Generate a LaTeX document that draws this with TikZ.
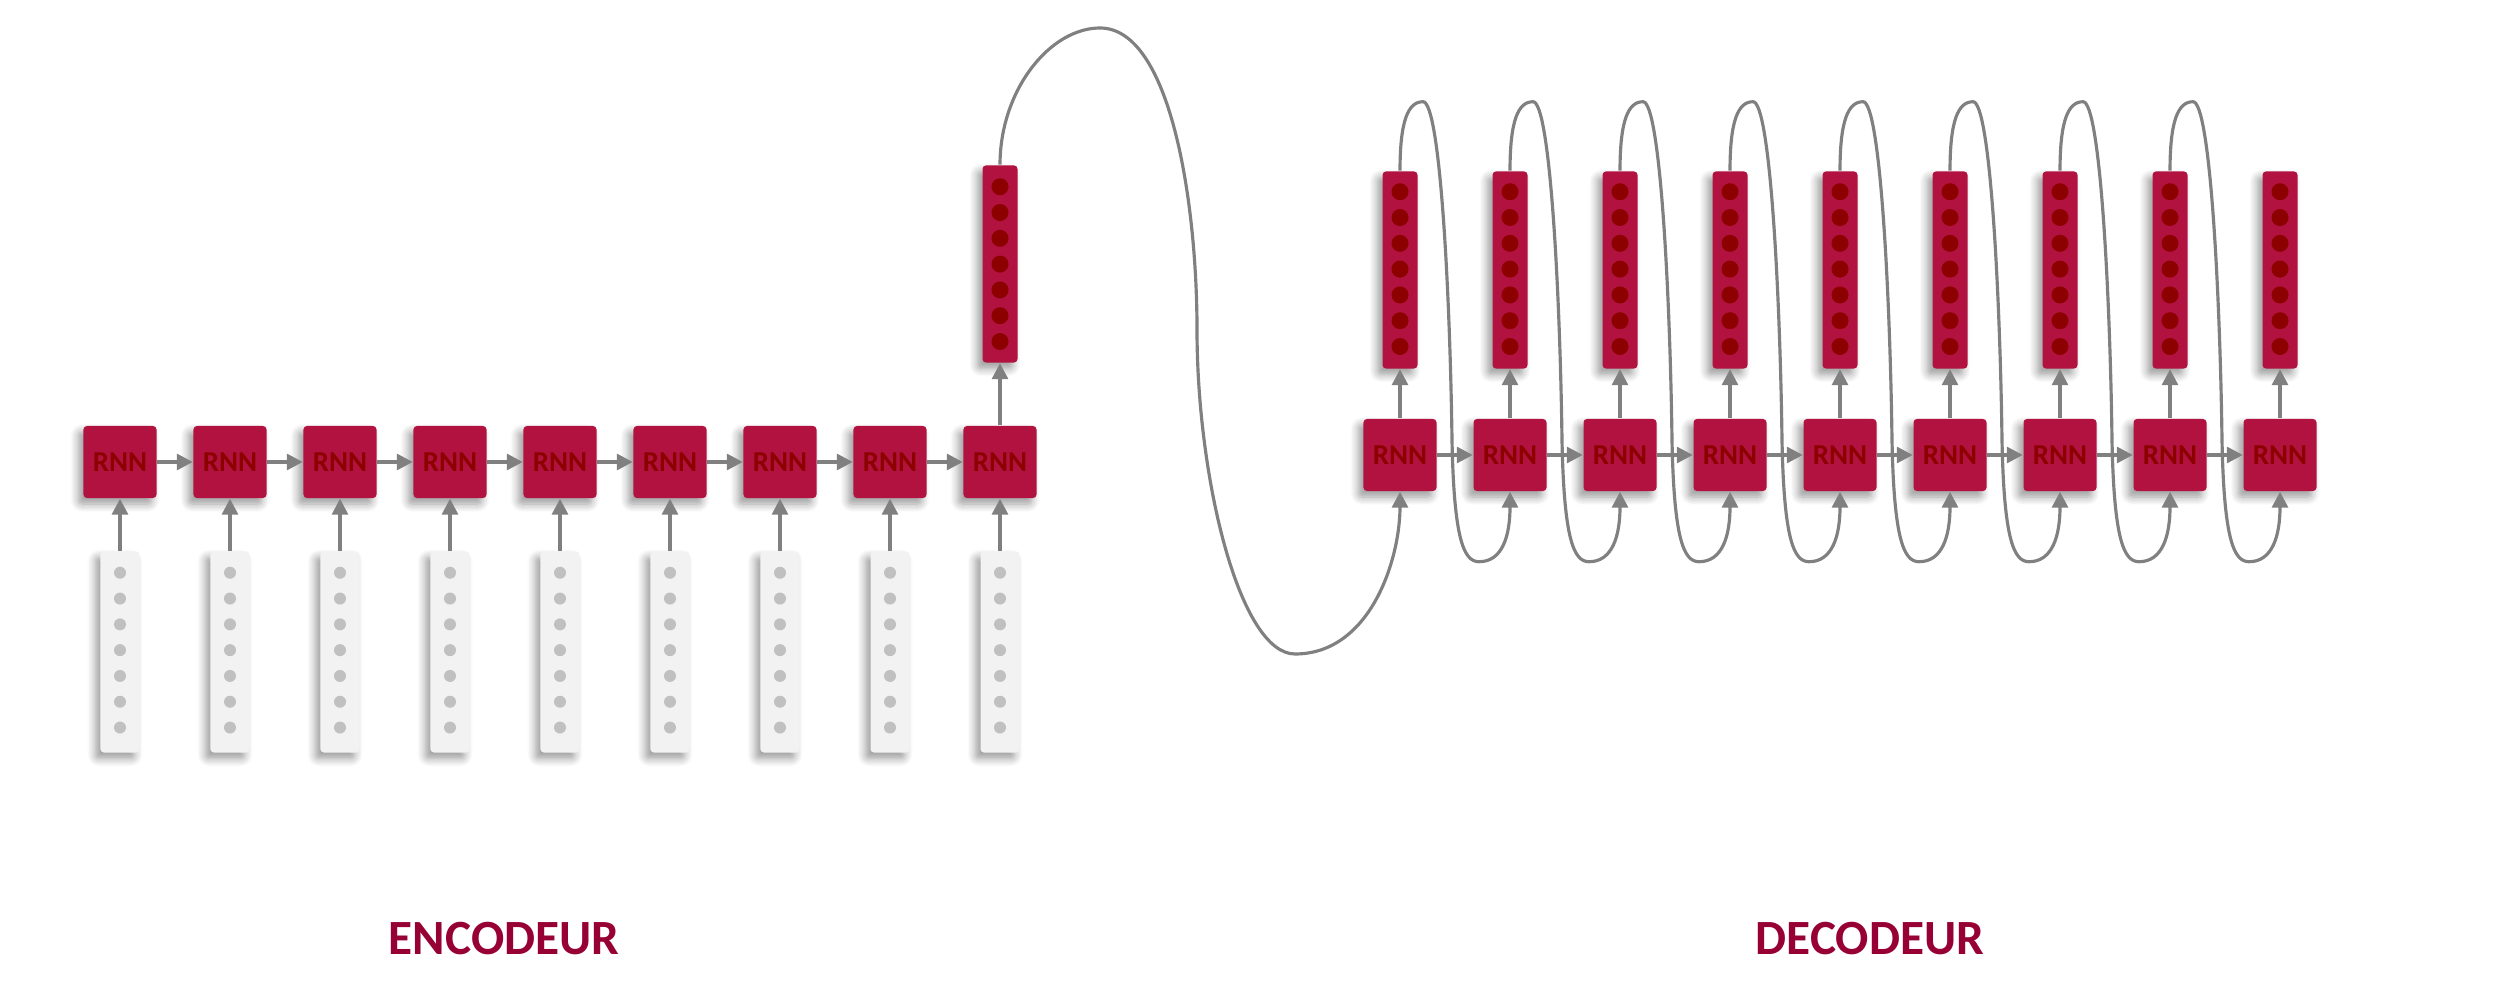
\documentclass[tikz,border=0pt]{standalone}
\usepackage{fontspec}
\setmainfont{Carlito}
\definecolor{rnnred}{RGB}{178, 18, 63}
\definecolor{dotred}{RGB}{140, 0, 0}
\definecolor{titlered}{RGB}{150, 0, 52}
\definecolor{arrowgray}{RGB}{128, 128, 128}
\definecolor{vecgray}{RGB}{242, 242, 242}
\definecolor{dotgray}{RGB}{192, 192, 192}
\usetikzlibrary{arrows.meta, positioning, calc, shadows, shadows.blur}

\tikzset{
  softshadow/.style={blur shadow={shadow xshift=-0.05cm, shadow yshift=-0.06cm, shadow opacity=40,
                     shadow blur radius=0.08cm, shadow blur steps=8}},
  rnnbox/.style={fill=rnnred, minimum width=0.73cm, minimum height=0.72cm, inner sep=0pt,
                 rounded corners=1pt, text=dotred, font=\bfseries\fontsize{8.2}{9}\selectfont, softshadow},
  invec/.style={fill=vecgray, minimum width=0.39cm, minimum height=2.01cm, inner sep=0pt,
                rounded corners=1pt, softshadow},
  outvec/.style={fill=rnnred, minimum width=0.35cm, minimum height=1.97cm, inner sep=0pt,
                 rounded corners=1pt, softshadow},
  flow/.style={draw=arrowgray, line width=0.9pt, -{Triangle[width=4.5pt,length=4.5pt]}},
  link/.style={draw=arrowgray, line width=0.6pt},
  title/.style={text=titlered, font=\bfseries\fontsize{14}{16}\selectfont},
}

\begin{document}
\begin{tikzpicture}[x=0.01cm, y=-0.01cm]
  \useasboundingbox (0,0) rectangle (2500,1007);

  % encodeur
  \foreach \i in {1,...,9} {
    \node[rnnbox] (e\i) at (120+110*\i-110, 462) {RNN};
    \node[invec, below=0.52cm of e\i] (x\i) {};
    \foreach \k in {0,...,6}
      \fill[dotgray] ($(x\i.north)+(0,22+25.8*\k)$) circle (0.06cm);
    \draw[flow] (x\i) -- (e\i);
  }
  \foreach \i [evaluate=\i as \j using int(\i+1)] in {1,...,8}
    \draw[flow] (e\i) -- (e\j);

  \node[outvec, above=0.62cm of e9] (h) {};
  \foreach \k in {0,...,6}
    \fill[dotred] ($(h.north)+(0,22+25.8*\k)$) circle (0.085cm);
  \draw[flow] (e9) -- (h);

  % decodeur
  \foreach \i in {1,...,9} {
    \node[rnnbox] (d\i) at (1400+110*\i-110, 455) {RNN};
    \node[outvec, above=0.49cm of d\i] (y\i) {};
    \foreach \k in {0,...,6}
      \fill[dotred] ($(y\i.north)+(0,21+25.8*\k)$) circle (0.085cm);
    \draw[flow] (d\i) -- (y\i);
  }
  \foreach \i [evaluate=\i as \j using int(\i+1)] in {1,...,8}
    \draw[flow] (d\i) -- (d\j);

  % vecteur de contexte vers le decodeur
  \draw[link, flow] (h.north) .. controls (1000,90) and (1050,28) .. (1100,28)
    .. controls (1170,28) and (1197,200) .. (1197,330)
    .. controls (1197,480) and (1240,654) .. (1295,654)
    .. controls (1370,654) and (1400,560) .. (d1.south);

  % sorties reinjectees
  \foreach \i [evaluate=\i as \j using int(\i+1)] in {1,...,8} {
    \coordinate (p\i) at (y\i.north);
    \draw[link, flow] (p\i) .. controls ($(p\i)+(0,-50)$) and ($(p\i)+(8,-69)$) .. ($(p\i)+(23,-69)$)
      .. controls ($(p\i)+(40,-69)$) and ($(p\i)+(50,120)$) .. ($(p\i)+(52,270)$)
      .. controls ($(p\i)+(54,370)$) and ($(p\i)+(64,391)$) .. ($(p\i)+(79,391)$)
      .. controls ($(p\i)+(102,391)$) and ($(d\j.south)+(0,45)$) .. (d\j.south);
  }

  \node[title] (enc) at (504, 939) {ENCODEUR};
  \node[title] (dec) at (1870, 939) {DECODEUR};
\end{tikzpicture}
\end{document}
